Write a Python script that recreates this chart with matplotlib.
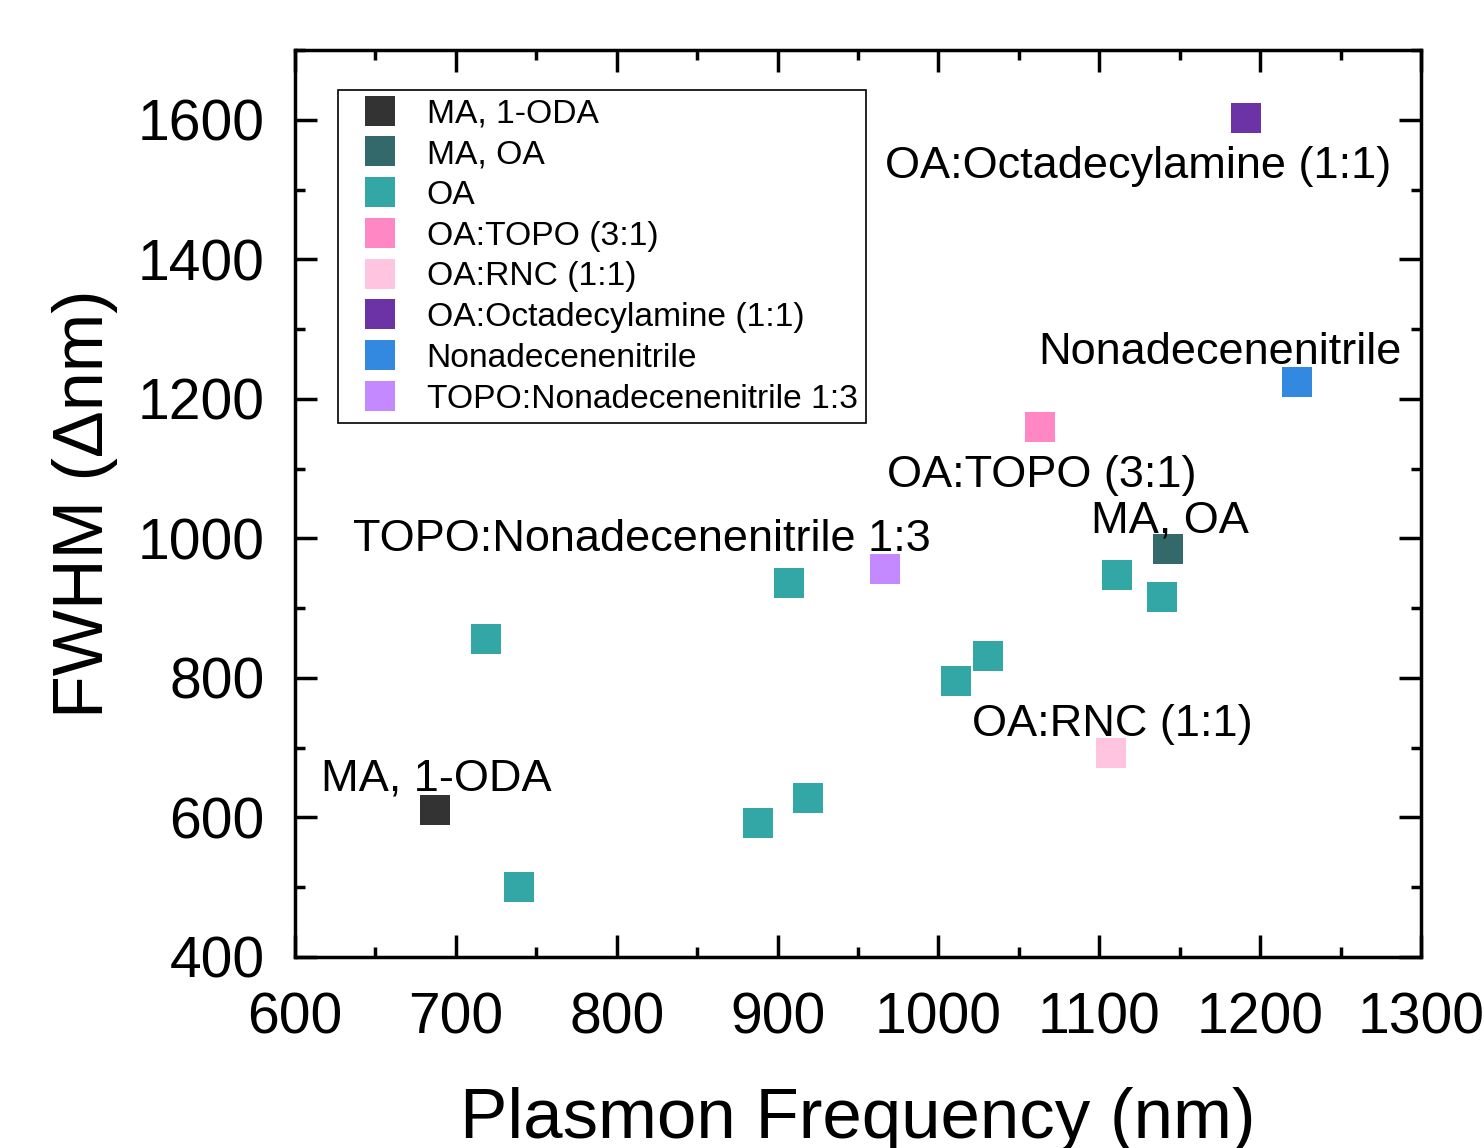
import matplotlib
matplotlib.use("Agg")
import matplotlib.pyplot as plt
from matplotlib.ticker import MultipleLocator

plt.rcParams['font.family'] = ['Liberation Sans', 'DejaVu Sans']

# data
labels = ["MA, 1-ODA", "MA, OA", "OA", "OA:TOPO (3:1)", "OA:RNC (1:1)",
          "OA:Octadecylamine (1:1)", "Nonadecenenitrile", "TOPO:Nonadecenenitrile 1:3"]
colors = ["#333333", "#33696A", "#33A6A6", "#FF88C4", "#FFC4E0",
          "#6B33A6", "#3388E0", "#C488FF"]

ma_oda_x, ma_oda_y = [687], [611]
ma_oa_x, ma_oa_y = [1143], [985]
oa_x = [719, 739, 888, 907, 919, 1011, 1031, 1111, 1139]
oa_y = [856, 500, 592, 936, 628, 795, 831, 947, 916]
topo_x, topo_y = [1063], [1159]
rnc_x, rnc_y = [1107], [692]
octa_x, octa_y = [1191], [1603]
nona_x, nona_y = [1223], [1224]
topo_nona_x, topo_nona_y = [967], [956]

series_x = [ma_oda_x, ma_oa_x, oa_x, topo_x, rnc_x, octa_x, nona_x, topo_nona_x]
series_y = [ma_oda_y, ma_oa_y, oa_y, topo_y, rnc_y, octa_y, nona_y, topo_nona_y]

# annotation text positions (data coords, left/baseline)
notes = [("OA:Octadecylamine (1:1)", 967, 1517),
         ("Nonadecenenitrile", 1062, 1250),
         ("OA:TOPO (3:1)", 968, 1073),
         ("MA, OA", 1095, 1009),
         ("TOPO:Nonadecenenitrile 1:3", 636, 982),
         ("OA:RNC (1:1)", 1021, 717),
         ("MA, 1-ODA", 616, 639)]

fig = plt.figure(figsize=(14.84, 11.48), dpi=100)
ax = fig.add_axes([0.1988, 0.1664, 0.7587, 0.79])

for xs, ys, c, lab in zip(series_x, series_y, colors, labels):
    ax.plot(xs, ys, linestyle="none", marker="s", markersize=21,
            color=c, markeredgewidth=0, label=lab)

for txt, x, y in notes:
    ax.text(x, y, txt, fontsize=32.5, ha="left", va="baseline")

ax.set_xlim(600, 1300)
ax.set_ylim(400, 1700)
ax.xaxis.set_major_locator(MultipleLocator(100))
ax.xaxis.set_minor_locator(MultipleLocator(50))
ax.yaxis.set_major_locator(MultipleLocator(200))
ax.yaxis.set_minor_locator(MultipleLocator(100))
ax.tick_params(which="both", direction="in", top=True, right=True, width=2.5)
ax.tick_params(which="major", length=16, labelsize=41)
ax.tick_params(axis="x", which="major", pad=25)
ax.tick_params(axis="y", which="major", pad=22)
ax.tick_params(which="minor", length=7)
for s in ax.spines.values():
    s.set_linewidth(2.5)

ax.set_xlabel("Plasmon Frequency (nm)", fontsize=51, labelpad=30)
ax.set_ylabel("FWHM (Δnm)", fontsize=50.5, labelpad=14)

leg = ax.legend(loc="upper left", bbox_to_anchor=(0.038, 0.956), borderaxespad=0,
                fontsize=24.2, fancybox=False, edgecolor="black", framealpha=1,
                handletextpad=0.39, labelspacing=0.29, markerscale=1.0,
                borderpad=0.25, handlelength=2.0)
leg.get_frame().set_linewidth(1.2)

fig.savefig("out.png", dpi=100)
